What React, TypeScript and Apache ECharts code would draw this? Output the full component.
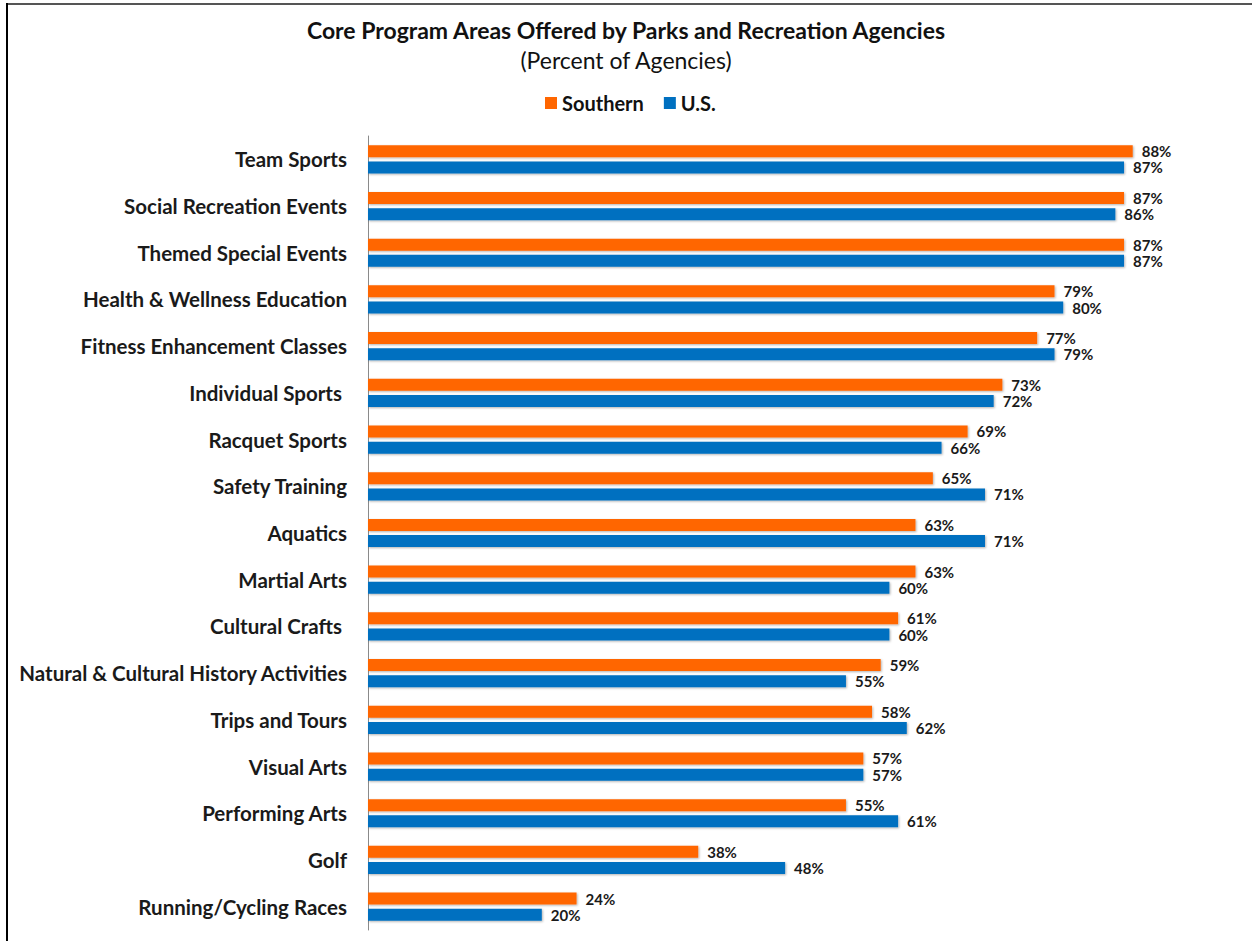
import React, { useEffect, useRef } from "react";
import * as echarts from "echarts";

const categories = [
  "Team Sports",
  "Social Recreation Events",
  "Themed Special Events",
  "Health & Wellness Education",
  "Fitness Enhancement Classes",
  "Individual Sports ",
  "Racquet Sports",
  "Safety Training",
  "Aquatics",
  "Martial Arts",
  "Cultural Crafts ",
  "Natural & Cultural History Activities",
  "Trips and Tours",
  "Visual Arts",
  "Performing Arts",
  "Golf",
  "Running/Cycling Races",
];

const southern = [88, 87, 87, 79, 77, 73, 69, 65, 63, 63, 61, 59, 58, 57, 55, 38, 24];
const us = [87, 86, 87, 80, 79, 72, 66, 71, 71, 60, 60, 55, 62, 57, 61, 48, 20];

const seriesNames = ["Southern", "U.S."];
const titleText = "Core Program Areas Offered by Parks and Recreation Agencies";
const subtitleText = "(Percent of Agencies)";

const FONT = "Lato, 'Noto Sans', sans-serif";

export default function App() {
  const ref = useRef<HTMLDivElement>(null);

  useEffect(() => {
    document.body.style.margin = "0";
    const chart = echarts.init(ref.current!, undefined, { renderer: "svg" });
    const labelStyle = {
      show: true,
      position: "right" as const,
      distance: 9,
      formatter: "{c}%",
      fontFamily: FONT,
      fontWeight: "bold" as const,
      fontSize: 15,
      color: "#1a1a1a",
    };
    const shadow = {
      shadowColor: "rgba(0,0,0,0.3)",
      shadowBlur: 2,
      shadowOffsetX: 1,
      shadowOffsetY: 1,
    };
    chart.setOption({
      animation: false,
      backgroundColor: "#ffffff",
      textStyle: { fontFamily: FONT },
      title: [
        {
          text: titleText,
          left: "center",
          top: 13,
          textStyle: { fontFamily: FONT, fontWeight: "bold", fontSize: 23, color: "#111" },
        },
        {
          text: subtitleText,
          left: "center",
          top: 43,
          textStyle: { fontFamily: FONT, fontWeight: "normal", fontSize: 23, color: "#111" },
        },
      ],
      legend: {
        top: 88,
        left: 540,
        icon: "rect",
        itemWidth: 12,
        itemHeight: 12,
        itemGap: 20,
        textStyle: { fontFamily: FONT, fontWeight: "bold", fontSize: 20, color: "#111" },
        data: seriesNames,
      },
      grid: { left: 368, right: 15, top: 136, bottom: 11, containLabel: false },
      xAxis: {
        type: "value",
        min: 0,
        max: 100,
        show: false,
        splitLine: { show: false },
      },
      yAxis: {
        type: "category",
        inverse: true,
        data: categories,
        axisLine: { show: true, lineStyle: { color: "#8a8a8a", width: 1 } },
        axisTick: { show: false },
        axisLabel: {
          margin: 21,
          fontFamily: FONT,
          fontWeight: "bold",
          fontSize: 20.5,
          color: "#1a1a1a",
        },
      },
      series: [
        {
          name: seriesNames[0],
          type: "bar",
          data: southern,
          barWidth: 12,
          barGap: "35%",
          itemStyle: { color: "#FF6600", ...shadow },
          label: labelStyle,
        },
        {
          name: seriesNames[1],
          type: "bar",
          data: us,
          barWidth: 12,
          itemStyle: { color: "#0070C0", ...shadow },
          label: labelStyle,
        },
      ],
      graphic: [
        {
          type: "line",
          shape: { x1: 7, y1: 4, x2: 1252, y2: 4 },
          style: { stroke: "#555", lineWidth: 2 },
        },
        {
          type: "line",
          shape: { x1: 7, y1: 3, x2: 7, y2: 941 },
          style: { stroke: "#000", lineWidth: 2 },
        },
      ],
    });
    return () => chart.dispose();
  }, []);

  return <div ref={ref} style={{ width: 1252, height: 941 }} />;
}
